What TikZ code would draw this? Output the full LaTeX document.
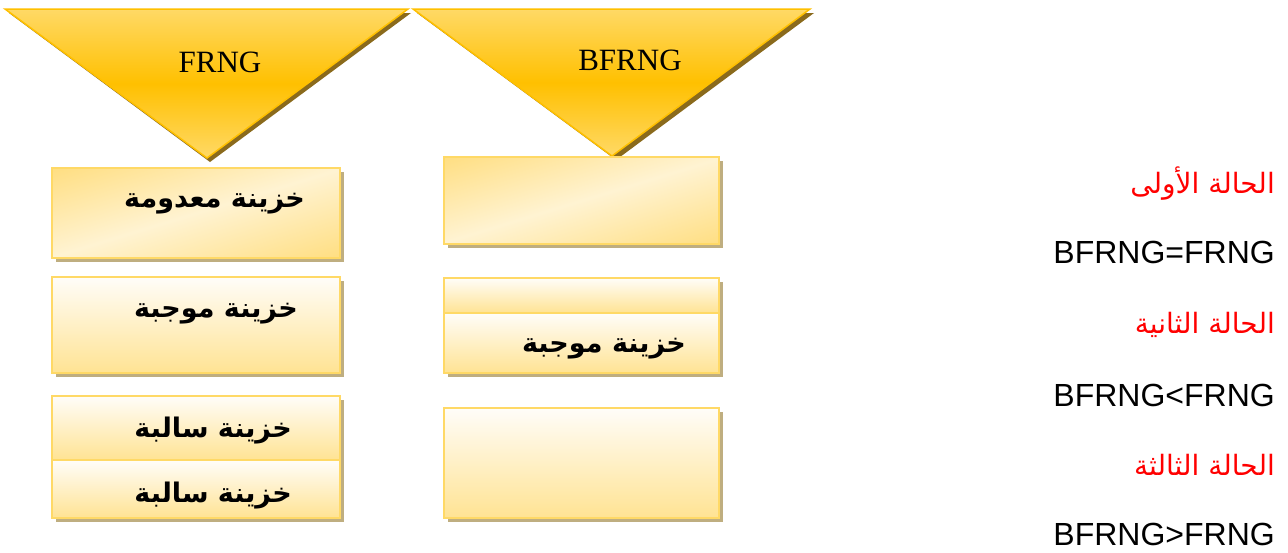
\documentclass[tikz,border=0pt]{standalone}
\usepackage{fontspec}
\setmainfont{Liberation Serif}
\newfontfamily\latinsans{Liberation Sans}
\newfontfamily\arabicfont[Script=Arabic]{DejaVu Sans}
\TeXXeTstate=1
\definecolor{goldA}{HTML}{FFC000}
\definecolor{goldB}{HTML}{FFD966}
\definecolor{goldC}{HTML}{FFD45A}
\definecolor{creamA}{HTML}{FFF3D2}
\definecolor{creamTop}{HTML}{FFFDF9}
\definecolor{creamBot}{HTML}{FFE393}
\definecolor{boxedge}{HTML}{FFD966}
\definecolor{boxshadow}{HTML}{BFAE80}
\definecolor{trishadow}{HTML}{8A6A1C}
% band of light across a golden field
\pgfdeclareverticalshading{sheen}{100bp}{color(0bp)=(goldC); color(28bp)=(goldC); color(50bp)=(creamA); color(72bp)=(goldC); color(100bp)=(goldC)}
\tikzset{
  tri/.style={draw=goldA, line width=1.5pt, top color=goldB, bottom color=goldB, middle color=goldA},
  trishade/.style={fill=trishadow},
  shadowbox/.style={fill=boxshadow},
  diagfill/.style={shading=sheen, shading angle=17},
  edgeonly/.style={draw=boxedge, line width=2pt},
  vertbox/.style={draw=boxedge, line width=2pt, top color=creamTop, bottom color=creamBot},
  cellText/.style={font=\arabicfont\bfseries\fontsize{27}{32}\selectfont, anchor=base east, inner sep=0pt},
  triText/.style={font=\fontsize{31}{36}\selectfont, anchor=base, inner sep=0pt},
  caseText/.style={font=\arabicfont\fontsize{28}{32}\selectfont, text=red, anchor=base east, inner sep=0pt},
  relText/.style={font=\latinsans\fontsize{32}{38}\selectfont, anchor=base east, inner sep=0pt}
}
\begin{document}
\begin{tikzpicture}[x=1pt, y=-1pt]
\useasboundingbox[fill=white] (0,0) rectangle (1288,552);

% funnel triangles with drop shadows
\fill[trishade] (9,13) -- (411,13) -- (210,162) -- cycle;
\draw[tri] (5,9) -- (408,9) -- (207,158) -- cycle;
\fill[trishade] (417,13) -- (814,13) -- (616,160) -- cycle;
\draw[tri] (413,9) -- (810,9) -- (612,156) -- cycle;
\node[triText] (frng) at (220,72) {FRNG};
\node[triText] (bfrng) at (630,70) {BFRNG};

% left column: box with a diagonal sheen
\fill[shadowbox] (56,172) rectangle (344,262);
\begin{scope}
  \clip (52,168) rectangle (340,258);
  \shade[diagfill] (51,68) rectangle (341,358);
\end{scope}
\draw[edgeonly] (52,168) rectangle (340,258);
\node[cellText] (zero) at (305,207) {\beginR خزينة معدومة\endR};

\fill[shadowbox] (56,281) rectangle (344,377);
\draw[vertbox] (52,277) rectangle (340,373);
\node[cellText] (posL) at (298,317) {\beginR خزينة موجبة\endR};

\fill[shadowbox] (56,400) rectangle (344,522);
\draw[vertbox] (52,396) rectangle (340,460);
\draw[vertbox] (52,460) rectangle (340,518);
\node[cellText] (negA) at (292,437) {\beginR خزينة سالبة\endR};
\node[cellText] (negB) at (292,502) {\beginR خزينة سالبة\endR};

% right column
\fill[shadowbox] (448,161) rectangle (723,248);
\begin{scope}
  \clip (444,157) rectangle (719,244);
  \shade[diagfill] (441.5,60.5) rectangle (721.5,340.5);
\end{scope}
\draw[edgeonly] (444,157) rectangle (719,244);

\fill[shadowbox] (448,282) rectangle (723,377);
\draw[vertbox] (444,278) rectangle (719,313);
\draw[vertbox] (444,313) rectangle (719,373);
\node[cellText] (posR) at (686,352) {\beginR خزينة موجبة\endR};

\fill[shadowbox] (448,412) rectangle (723,522);
\draw[vertbox] (444,408) rectangle (719,518);

% cases
\node[caseText] (case1) at (1275,193) {\beginR الحالة الأولى\endR};
\node[relText] (rel1) at (1275,263) {BFRNG=FRNG};
\node[caseText] (case2) at (1275,333) {\beginR الحالة الثانية\endR};
\node[relText] (rel2) at (1275,406) {BFRNG<FRNG};
\node[caseText] (case3) at (1275,475) {\beginR الحالة الثالثة\endR};
\node[relText] (rel3) at (1275,545) {BFRNG>FRNG};
\end{tikzpicture}
\end{document}
